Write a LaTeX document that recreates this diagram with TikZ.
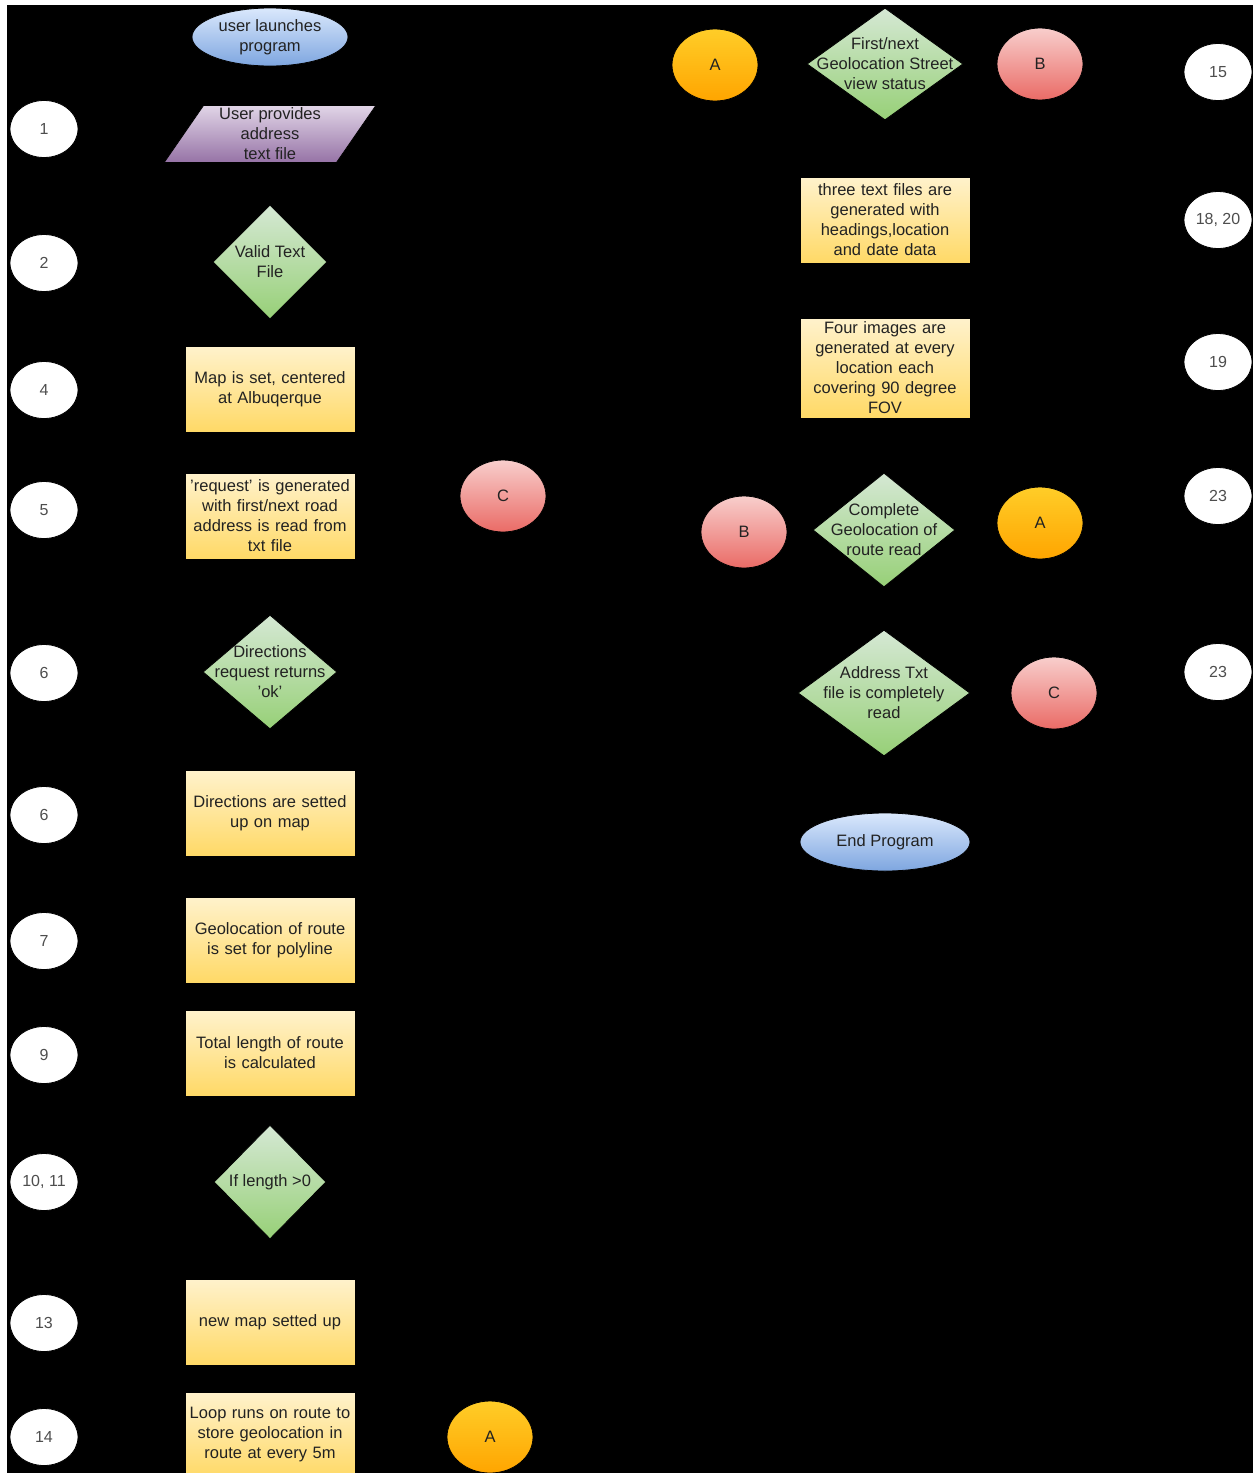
\documentclass[tikz,border=0pt]{standalone}
\usepackage{fontspec}
\setmainfont{Liberation Sans}
\usetikzlibrary{shapes.geometric,arrows.meta}
\definecolor{ylT}{HTML}{FFF2CC}\definecolor{ylB}{HTML}{FFD966}
\definecolor{grT}{HTML}{D5E8D4}\definecolor{grB}{HTML}{97D077}
\definecolor{orT}{HTML}{FFCD28}\definecolor{orB}{HTML}{FFA500}
\definecolor{rdT}{HTML}{F8CECC}\definecolor{rdB}{HTML}{EA6B66}
\definecolor{blT}{HTML}{DAE8FC}\definecolor{blB}{HTML}{7EA6E0}
\definecolor{puT}{HTML}{E1D5E7}\definecolor{puB}{HTML}{9673A6}
\definecolor{txt}{HTML}{222222}
\tikzset{
  mainfont/.style={font=\fontsize{16.5}{20}\selectfont},
  base/.style={draw=black, line width=0.8pt, align=center, text=txt, mainfont, inner sep=1pt},
  lbl/.style={align=center, text=txt, mainfont, inner sep=0pt},
  procbox/.style={base, rectangle, minimum width=170pt, minimum height=86pt, text width=168pt, top color=ylT, bottom color=ylB},
  decide/.style={base, diamond, inner sep=0pt, top color=grT, bottom color=grB},
  termin/.style={base, ellipse, inner sep=0pt, top color=blT, bottom color=blB},
  iobox/.style={base, trapezium, trapezium left angle=60, trapezium right angle=120, minimum width=212pt, minimum height=57pt, inner sep=0pt, top color=puT, bottom color=puB, trapezium stretches=true},
  conA/.style={base, ellipse, minimum width=86pt, minimum height=72pt, inner sep=0pt, top color=orT, bottom color=orB},
  conR/.style={base, ellipse, minimum width=86pt, minimum height=72pt, inner sep=0pt, top color=rdT, bottom color=rdB},
  numlab/.style={draw=black, line width=0.8pt, ellipse, fill=white, minimum width=68pt, minimum height=57pt, inner sep=0pt, text=txt!80, font=\fontsize{16}{18}\selectfont},
  flow/.style={draw=black, line width=1pt, -{Stealth[length=7pt]}}
}
\begin{document}
\begin{tikzpicture}[x=1pt,y=-1pt]
\useasboundingbox (0,0) rectangle (1253,1473);
\fill[white] (0,0) rectangle (1253,1473);
\fill[black] (7,5) rectangle (1253,1473);

% left column
\node[termin, minimum width=156pt, minimum height=58pt] (start) at (270,37) {user launches\\program};
\node[iobox] (input) at (270,134) {User provides\\address\\text file};
\node[decide, minimum width=114pt, minimum height=114pt, label={[lbl]center:Valid Text\\File}] (valid) at (270,262) {};
\node[procbox] (mapset) at (270,389) {Map is set, centered\\at Albuqerque};
\node[procbox] (request) at (270,516) {'request' is generated\\with first/next road\\address is read from\\txt file};
\node[decide, minimum width=134pt, minimum height=114pt, label={[lbl]center:Directions\\request returns\\'ok'}] (dirok) at (270,672) {};
\node[procbox] (dirset) at (270,813) {Directions are setted\\up on map};
\node[procbox] (geoset) at (270,940) {Geolocation of route\\is set for polyline};
\node[procbox] (total) at (270,1053) {Total length of route\\is calculated};
\node[decide, minimum width=112pt, minimum height=114pt, label={[lbl]center:If length >0}] (iflen) at (270,1182) {};
\node[procbox] (newmap) at (270,1322) {new map setted up};
\node[procbox] (loop) at (270,1435) {Loop runs on route to\\store geolocation in\\route at every 5m};
\node[conA] (aout) at (490,1437) {A};
\node[conR] (cin) at (503,496) {C};

% number labels left
\node[numlab] (n1) at (44,129) {1};
\node[numlab] (n2) at (44,263) {2};
\node[numlab] (n4) at (44,390) {4};
\node[numlab] (n5) at (44,510) {5};
\node[numlab] (n6a) at (44,673) {6};
\node[numlab] (n6b) at (44,815) {6};
\node[numlab] (n7) at (44,941) {7};
\node[numlab] (n9) at (44,1055) {9};
\node[numlab] (n10) at (44,1182) {10, 11};
\node[numlab] (n13) at (44,1323) {13};
\node[numlab] (n14) at (44,1437) {14};

% right column
\node[conA] (ain) at (715,65) {A};
\node[decide, minimum width=156pt, minimum height=112pt, label={[lbl]center:First/next\\Geolocation Street\\view status}] (sview) at (885,64) {};
\node[conR] (bout) at (1040,64) {B};
\node[procbox] (files) at (885,220) {three text files are\\generated with\\headings,location\\and date data};
\node[procbox, minimum height=100pt] (images) at (885,368) {Four images are\\generated at every\\location each\\covering 90 degree\\FOV};
\node[conR] (bin) at (744,532) {B};
\node[decide, minimum width=142pt, minimum height=114pt, label={[lbl]center:Complete\\Geolocation of\\route read}] (complete) at (884,530) {};
\node[conA] (aout2) at (1040,523) {A};
\node[decide, minimum width=172pt, minimum height=126pt, label={[lbl]center:Address Txt\\file is completely\\read}] (addr) at (884,693) {};
\node[conR] (cout) at (1054,693) {C};
\node[termin, minimum width=170pt, minimum height=58pt] (endp) at (885,842) {End Program};

% number labels right
\node[numlab] (n15) at (1218,72) {15};
\node[numlab] (n18) at (1218,220) {18, 20};
\node[numlab] (n19) at (1218,362) {19};
\node[numlab] (n23a) at (1218,496) {23};
\node[numlab] (n23b) at (1218,672) {23};

% connectors (black, as in the reference)
\draw[flow] (start) -- (input);
\draw[flow] (input) -- (valid);
\draw[flow] (valid) -- (mapset);
\draw[flow] (mapset) -- (request);
\draw[flow] (request) -- (dirok);
\draw[flow] (dirok) -- (dirset);
\draw[flow] (dirset) -- (geoset);
\draw[flow] (geoset) -- (total);
\draw[flow] (total) -- (iflen);
\draw[flow] (iflen) -- (newmap);
\draw[flow] (newmap) -- (loop);
\draw[flow] (loop) -- (aout);
\draw[flow] (cin) -- (request);
\draw[flow] (ain) -- (sview);
\draw[flow] (sview) -- (bout);
\draw[flow] (sview) -- (files);
\draw[flow] (files) -- (images);
\draw[flow] (images) -- (complete);
\draw[flow] (bin) -- (complete);
\draw[flow] (complete) -- (aout2);
\draw[flow] (complete) -- (addr);
\draw[flow] (addr) -- (cout);
\draw[flow] (addr) -- (endp);
\end{tikzpicture}
\end{document}
